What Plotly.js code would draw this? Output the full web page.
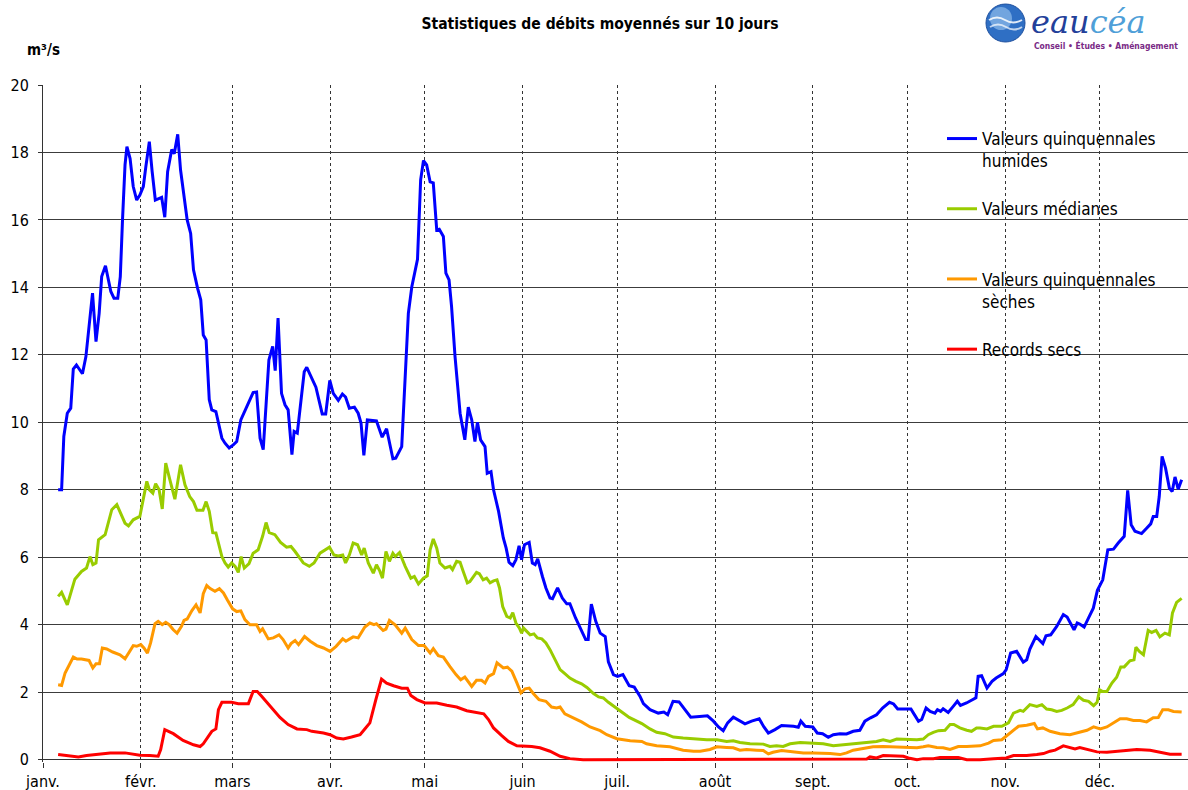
<!DOCTYPE html>
<html>
<head>
<meta charset="utf-8">
<script src="https://cdn.plot.ly/plotly-3.0.1.min.js"></script>
<style>
html,body{margin:0;padding:0;background:#fff;}
#chart{width:1188px;height:790px;}
</style>
</head>
<body>
<div id="chart"></div>
<script>
// Day of year (0 = 1 janvier, leap year) and flow values (m3/s)
const monthTicks = [0, 31, 60, 91, 121, 152, 182, 213, 244, 274, 305, 335];
const monthLabels = ['janv.', 'févr.', 'mars', 'avr.', 'mai', 'juin', 'juil.', 'août', 'sept.', 'oct.', 'nov.', 'déc.'];

const seriesNames = ['Valeurs quinquennales<br>humides', 'Valeurs médianes<br> ', 'Valeurs quinquennales<br>sèches', 'Records secs'];

const blueDays = [4.8,5.9,6.6,7.7,8.8,9.6,10.6,12.5,13.6,14.6,15.7,16.8,17.8,18.6,19.8,21.5,22.5,23.7,24.5,25.2,26.0,26.6,27.6,28.6,29.7,30.7,31.8,32.6,33.7,34.6,35.6,37.6,38.6,39.5,40.8,41.6,42.7,43.6,44.6,45.7,46.8,47.7,49.0,50.0,50.8,51.7,52.7,53.5,54.8,56.1,56.7,57.7,59.0,60.3,61.4,62.7,65.1,66.6,67.7,68.8,69.8,71.6,72.8,73.6,74.5,75.6,76.7,77.7,78.9,79.6,80.6,82.8,83.6,84.7,86.5,88.5,89.6,90.9,92.0,93.6,94.9,95.9,97.1,98.7,99.9,100.8,101.7,102.8,105.7,107.5,108.9,110.9,111.8,113.7,114.8,115.8,116.9,118.7,119.7,120.6,121.6,122.7,123.7,124.8,125.6,126.9,127.7,128.7,129.5,130.6,132.2,133.7,134.8,135.9,136.9,137.7,138.7,140.1,140.8,142.0,142.8,144.4,145.9,146.8,147.7,148.9,149.9,150.9,151.7,152.6,154.1,155.1,156.0,156.8,158.3,159.4,160.7,161.5,163.1,164.6,166.0,167.0,168.8,170.4,172.0,172.8,173.8,175.2,176.6,178.2,179.2,180.8,182.1,183.8,185.8,187.4,189.2,190.3,192.4,195.0,196.8,198.0,199.7,201.6,203.4,205.3,208.1,210.6,212.5,214.1,215.6,217.0,218.8,220.9,222.5,224.6,227.0,228.5,229.9,232.0,234.1,237.9,239.4,240.2,241.6,244.0,245.4,247.1,248.9,250.5,252.6,254.7,256.8,258.9,260.5,262.3,264.2,266.1,268.3,269.6,270.9,273.3,275.1,275.9,277.5,278.5,279.9,281.2,282.7,283.5,284.5,285.3,286.9,288.5,289.8,290.8,292.7,295.7,296.4,297.5,299.2,300.8,302.1,304.4,305.3,306.7,308.6,310.7,311.8,312.8,314.7,316.9,317.9,319.4,321.3,323.4,324.6,326.8,327.8,328.6,330.0,331.4,332.9,334.2,335.9,337.5,339.3,340.8,342.7,343.8,344.9,346.1,348.2,349.8,351.1,351.9,353.0,353.8,354.7,355.8,357.0,357.9,358.8,359.8,360.9];
const blueVals = [8.0,8.0,9.58,10.27,10.42,11.58,11.70,11.44,11.95,12.94,13.83,12.39,13.23,14.32,14.64,13.88,13.68,13.68,14.32,16.0,17.63,18.17,17.82,16.99,16.59,16.74,16.99,17.58,18.32,17.43,16.59,16.67,16.08,17.43,18.09,17.96,18.54,17.48,16.69,16.0,15.60,14.52,13.97,13.63,12.59,12.44,10.67,10.37,10.32,9.78,9.53,9.38,9.24,9.33,9.43,10.07,10.57,10.88,10.9,9.53,9.19,11.85,12.25,11.53,13.09,10.86,10.52,10.37,9.04,9.73,9.68,11.5,11.63,11.41,11.04,10.25,10.25,11.24,10.86,10.65,10.84,10.75,10.42,10.45,10.27,9.98,9.02,10.07,10.04,9.56,9.81,8.92,8.94,9.28,11.26,13.23,14.02,14.83,17.19,17.76,17.63,17.13,17.1,15.70,15.72,15.51,14.42,14.22,13.43,11.95,10.27,9.48,10.45,10.07,9.43,10.0,9.48,9.28,8.49,8.54,8.0,7.36,6.57,6.27,5.85,5.75,5.93,6.34,5.93,6.37,6.44,5.83,5.78,5.95,5.43,5.09,4.79,4.77,5.09,4.79,4.62,4.62,4.2,3.90,3.56,3.56,4.61,4.10,3.75,3.65,2.9,2.52,2.47,2.52,2.19,2.15,1.88,1.66,1.48,1.38,1.41,1.33,1.73,1.71,1.48,1.26,1.28,1.30,1.14,0.97,0.86,1.09,1.26,1.16,1.06,1.14,1.21,0.97,0.79,0.89,1.01,0.99,0.96,1.14,0.99,0.97,0.79,0.77,0.66,0.74,0.77,0.76,0.84,0.87,1.14,1.24,1.33,1.53,1.70,1.65,1.50,1.50,1.50,1.38,1.14,1.19,1.53,1.43,1.38,1.48,1.43,1.51,1.40,1.58,1.73,1.61,1.68,1.83,2.47,2.49,2.12,2.32,2.42,2.55,2.67,3.16,3.21,2.89,2.96,3.28,3.65,3.44,3.67,3.70,3.95,4.30,4.23,3.85,4.05,4.02,3.93,4.20,4.49,5.02,5.33,6.22,6.24,6.42,6.62,7.98,6.96,6.77,6.70,6.86,6.99,7.21,7.21,7.80,8.99,8.64,8.05,7.95,8.38,8.02,8.30];

const greenDays = [4.8,5.9,7.7,10.1,12.2,13.8,14.9,15.8,16.8,17.6,19.7,21.8,23.4,24.4,26.0,27.1,28.6,30.7,31.8,32.9,33.7,34.8,35.7,36.8,37.8,38.9,40.2,41.8,43.6,45.0,46.5,47.7,48.8,50.7,51.7,52.7,53.8,54.8,56.7,57.7,58.7,59.8,60.9,61.9,62.8,63.8,65.3,66.6,68.2,69.6,70.7,71.7,73.5,75.3,77.2,78.6,79.9,81.0,82.5,84.4,85.9,87.8,89.4,90.8,92.2,93.6,95.0,95.9,97.1,98.3,99.7,101.0,101.8,103.1,104.7,105.7,106.8,107.6,108.7,109.8,110.9,111.7,113.0,114.8,116.6,117.7,119.0,120.6,121.8,122.7,123.7,124.8,125.8,127.4,129.0,129.8,131.1,132.2,133.2,134.5,135.3,137.4,138.3,139.5,140.6,141.7,142.8,143.9,144.7,145.7,147.0,148.1,148.9,149.9,151.0,151.7,152.3,153.3,154.4,155.6,156.7,158.1,159.4,160.7,162.3,163.9,165.4,167.0,168.9,170.7,172.4,174.5,176.1,177.6,179.2,180.8,182.4,184.2,185.8,187.1,189.8,192.4,194.5,197.1,199.8,202.9,207.2,210.4,213.6,216.7,218.8,220.9,224.1,228.3,230.4,232.5,234.6,236.8,240.0,244.2,247.3,250.5,253.7,256.8,261.1,264.2,266.3,268.5,270.6,273.8,277.0,279.0,280.6,282.2,283.8,285.9,287.5,288.7,290.6,292.8,294.3,295.9,297.0,299.2,301.3,303.9,306.0,307.6,309.7,310.7,312.8,315.0,316.6,318.1,319.7,321.3,322.9,324.6,326.5,328.3,329.8,331.4,333.0,334.1,334.9,335.9,337.2,338.8,340.3,341.6,342.7,344.5,345.8,346.4,347.5,348.8,350.3,351.4,352.8,354.0,355.6,357.0,358.0,359.3,360.9];
const greenVals = [4.84,4.96,4.59,5.35,5.58,5.68,6.02,5.78,5.83,6.52,6.67,7.41,7.56,7.36,7.01,6.93,7.11,7.21,7.70,8.25,8.0,7.90,8.18,8.0,7.43,8.79,8.30,7.72,8.74,8.15,7.80,7.65,7.39,7.39,7.65,7.36,6.73,6.72,6.02,5.83,5.71,5.83,5.73,5.55,6.02,5.68,5.81,6.12,6.22,6.62,7.03,6.73,6.67,6.44,6.30,6.32,6.17,6.04,5.83,5.73,5.83,6.12,6.22,6.30,6.07,6.04,6.07,5.83,6.07,6.42,6.37,6.07,6.27,5.83,5.53,5.78,5.58,5.38,6.17,5.88,6.12,6.02,6.14,5.73,5.38,5.43,5.21,5.38,5.45,6.22,6.54,6.27,5.83,5.68,5.73,5.63,5.88,5.85,5.58,5.24,5.28,5.55,5.51,5.33,5.38,5.24,5.30,5.33,5.09,4.54,4.25,4.20,4.36,4.05,3.90,3.75,3.90,3.80,3.70,3.73,3.61,3.58,3.46,3.26,2.96,2.67,2.55,2.42,2.32,2.25,2.14,1.96,1.86,1.83,1.70,1.60,1.48,1.36,1.25,1.19,1.07,0.91,0.81,0.77,0.67,0.64,0.61,0.59,0.59,0.54,0.56,0.51,0.47,0.46,0.39,0.41,0.39,0.47,0.51,0.49,0.47,0.41,0.44,0.47,0.51,0.54,0.59,0.54,0.61,0.59,0.59,0.61,0.74,0.81,0.86,0.87,1.04,1.04,0.94,0.87,0.84,0.94,0.94,0.91,0.99,0.99,1.09,1.38,1.46,1.43,1.63,1.58,1.63,1.50,1.48,1.43,1.46,1.53,1.63,1.86,1.76,1.73,1.60,1.70,2.07,2.02,2.02,2.27,2.44,2.75,2.75,2.93,2.96,3.33,3.21,3.11,3.83,3.77,3.83,3.64,3.75,3.70,4.35,4.66,4.78];

const orangeDays = [4.8,5.9,7.0,8.3,9.6,10.8,12.2,14.6,15.8,16.8,17.9,18.8,20.2,22.1,24.4,26.0,27.4,28.6,29.7,31.0,32.0,33.1,34.1,35.5,36.5,37.8,38.9,40.0,41.3,42.5,43.9,44.7,45.7,47.2,48.5,49.8,50.8,51.9,53.0,54.5,55.9,57.2,58.4,60.1,61.4,62.7,64.0,65.6,67.7,68.8,69.6,71.4,73.0,74.8,76.1,77.7,78.6,79.9,81.0,82.9,84.7,86.8,88.9,91.0,92.9,95.0,96.0,98.3,99.9,102.0,103.6,104.9,105.7,107.8,108.7,109.8,111.6,113.7,114.8,116.9,119.0,120.8,122.7,123.7,125.3,126.9,129.0,130.9,132.4,133.7,135.9,137.4,139.0,140.1,141.2,142.8,143.9,145.1,145.9,147.2,148.6,150.0,151.5,152.8,154.1,155.4,157.2,159.4,161.2,162.8,163.9,165.4,168.1,170.7,173.4,176.6,178.7,181.9,186.1,189.8,191.3,194.5,198.7,202.9,206.2,208.3,211.4,213.0,213.6,216.7,218.8,220.9,223.0,226.2,228.3,229.9,231.4,234.1,237.9,241.0,244.2,246.8,249.5,252.6,254.7,256.8,260.0,263.1,266.3,270.6,274.3,277.0,279.0,280.6,283.3,285.3,287.5,290.1,292.8,295.9,297.0,299.7,301.3,303.9,305.3,307.1,309.2,311.8,314.2,315.2,316.9,319.2,322.3,325.5,328.6,330.9,333.0,335.1,337.2,339.3,341.4,343.5,345.6,347.7,349.8,351.9,353.5,354.9,356.7,358.3,360.9];
const orangeVals = [2.22,2.20,2.57,2.81,3.04,2.98,2.98,2.94,2.72,2.84,2.84,3.31,3.28,3.19,3.11,2.99,3.18,3.38,3.36,3.41,3.31,3.16,3.46,4.03,4.10,4.0,4.07,4.0,3.85,3.75,3.95,4.13,4.17,4.42,4.59,4.35,4.92,5.16,5.07,4.99,5.07,4.94,4.74,4.47,4.39,4.41,4.15,4.0,4.0,3.80,3.88,3.58,3.61,3.70,3.56,3.31,3.44,3.53,3.41,3.65,3.51,3.38,3.31,3.21,3.36,3.58,3.51,3.64,3.61,3.93,4.05,4.0,4.03,3.83,3.87,4.13,4.0,3.75,3.90,3.56,3.38,3.38,3.16,3.29,3.08,3.04,2.76,2.52,2.37,2.45,2.17,2.35,2.35,2.27,2.47,2.55,2.87,2.79,2.72,2.74,2.62,2.32,1.98,2.10,2.12,1.96,1.78,1.73,1.56,1.53,1.56,1.36,1.24,1.12,0.97,0.86,0.74,0.62,0.56,0.54,0.47,0.41,0.38,0.28,0.25,0.25,0.30,0.35,0.38,0.36,0.35,0.28,0.30,0.28,0.27,0.17,0.22,0.27,0.22,0.20,0.20,0.20,0.18,0.15,0.20,0.28,0.33,0.38,0.39,0.38,0.35,0.35,0.38,0.41,0.36,0.35,0.30,0.39,0.39,0.39,0.41,0.49,0.57,0.59,0.69,0.84,0.99,1.02,1.07,0.91,0.94,0.84,0.77,0.74,0.81,0.87,0.97,0.91,0.97,1.09,1.21,1.21,1.16,1.16,1.12,1.24,1.25,1.48,1.48,1.43,1.41];

const redDays = [4.8,7.5,11.2,13.8,17.1,21.3,26.0,30.7,33.9,36.5,37.3,38.6,41.3,44.4,47.7,49.8,50.8,52.4,53.5,54.8,55.6,56.7,59.8,61.9,65.1,66.6,67.9,69.3,71.9,75.1,77.7,80.5,83.6,85.2,88.9,91.0,93.1,95.2,97.8,100.5,102.0,103.6,105.5,107.3,108.9,111.1,113.7,115.5,116.6,118.5,121.1,124.8,128.0,131.1,134.3,137.4,139.7,141.2,142.8,145.4,147.5,150.2,152.8,154.9,157.5,160.7,163.9,167.0,171.2,186.1,208.3,240.0,261.1,262.1,264.2,266.3,269.6,272.7,274.3,277.0,279.0,282.2,284.3,287.5,290.1,292.8,297.0,301.3,305.3,307.6,311.8,315.0,317.1,319.2,320.8,323.4,325.5,327.1,328.6,330.9,334.1,337.2,340.3,343.5,346.7,350.9,354.0,357.2,360.9];
const redVals = [0.15,0.12,0.08,0.12,0.15,0.20,0.20,0.13,0.12,0.10,0.30,0.89,0.77,0.57,0.44,0.39,0.47,0.67,0.84,0.91,1.48,1.70,1.70,1.66,1.66,2.02,2.02,1.88,1.60,1.25,1.04,0.91,0.89,0.84,0.79,0.74,0.64,0.61,0.67,0.74,0.91,1.09,1.78,2.39,2.27,2.19,2.12,2.12,1.90,1.78,1.68,1.68,1.61,1.56,1.45,1.40,1.36,1.19,0.94,0.71,0.54,0.41,0.41,0.39,0.35,0.25,0.10,0.03,0.0,0.0,0.0,0.0,0.02,0.08,0.05,0.12,0.12,0.10,0.05,0.0,0.03,0.03,0.06,0.05,0.06,0.0,0.0,0.03,0.05,0.12,0.12,0.15,0.18,0.25,0.28,0.41,0.36,0.32,0.36,0.30,0.23,0.22,0.25,0.28,0.30,0.28,0.22,0.16,0.16];

const seriesColors = ['#0000ff', '#99cc00', '#ff9900', '#ff0000'];
const FONT = '"DejaVu Sans Condensed", "DejaVu Sans", sans-serif';

function mk(days, vals, i) {
  return {
    x: days, y: vals, type: 'scatter', mode: 'lines',
    name: seriesNames[i], legendgroup: 'g' + i,
    line: {color: seriesColors[i], width: 3},
    hoverinfo: 'skip'
  };
}
const traces = [
  mk(blueDays, blueVals, 0),
  mk(greenDays, greenVals, 1),
  mk(orangeDays, orangeVals, 2),
  mk(redDays, redVals, 3)
];

const W = 1188, H = 790, L = 43, R = 0, T = 85, B = 28;
const pw = W - L - R, ph = H - T - B;
const px = v => (v - L) / pw;           // pixel -> paper x (decor only)
const py = v => (H - B - v) / ph;       // pixel -> paper y (decor only)

const layout = {
  width: W, height: H,
  margin: {l: L, r: R, t: T, b: B, pad: 0},
  paper_bgcolor: '#ffffff', plot_bgcolor: '#ffffff',
  font: {family: FONT, size: 16, color: '#000'},
  showlegend: true,
  title: {
    text: '<b>Statistiques de débits moyennés sur 10 jours</b>',
    font: {family: FONT, size: 15.5, color: '#000'},
    xref: 'container', yref: 'container', x: 600 / W, xanchor: 'center', y: 1 - 24 / H, yanchor: 'middle'
  },
  xaxis: {
    range: [0, pw / 3.155],
    tickmode: 'array', tickvals: monthTicks, ticktext: monthLabels,
    showgrid: true, gridcolor: '#333', gridwidth: 1, griddash: 'dot',
    showline: false, zeroline: false,
    ticks: 'outside', ticklen: 5, tickcolor: '#333', tickwidth: 1,
    tickfont: {family: FONT, size: 16, color: '#000'},
    fixedrange: true
  },
  yaxis: {
    range: [-0.07, 20],
    tickmode: 'array', tickvals: [0,2,4,6,8,10,12,14,16,18,20],
    showgrid: true, gridcolor: '#3c3c3c', gridwidth: 1,
    zeroline: true, zerolinecolor: '#333', zerolinewidth: 1,
    showline: true, linecolor: '#333', linewidth: 1,
    ticks: 'outside', ticklen: 4, tickcolor: '#333',
    ticklabelstandoff: 6,
    tickfont: {family: FONT, size: 16, color: '#000'},
    fixedrange: true
  },
  legend: {
    x: px(942), y: py(121), xanchor: 'left', yanchor: 'top',
    bgcolor: 'rgba(0,0,0,0)', borderwidth: 0,
    font: {family: FONT, size: 17, color: '#000'},
    traceorder: 'grouped', tracegroupgap: 23, valign: 'top',
    itemwidth: 30
  },
  shapes: [
    {type: 'rect', xref: 'paper', yref: 'paper', x0: px(925), x1: px(1183), y0: py(393), y1: py(112),
     fillcolor: '#ffffff', line: {width: 0}, layer: 'between'},
    {type: 'circle', xref: 'paper', yref: 'paper', x0: px(986), x1: px(1025), y0: py(42), y1: py(4),
     fillcolor: '#2f6fc4', line: {color: '#1d4f9e', width: 1}, layer: 'above'},
    {type: 'circle', xref: 'paper', yref: 'paper', x0: px(990), x1: px(1012), y0: py(30), y1: py(7),
     fillcolor: 'rgba(170,210,245,0.55)', line: {width: 0}, layer: 'above'},
    {type: 'path', xref: 'paper', yref: 'paper', layer: 'above',
     path: `M ${px(989)} ${py(20)} Q ${px(997)} ${py(15)} ${px(1005)} ${py(20)} T ${px(1022)} ${py(20)}`,
     line: {color: 'rgba(255,255,255,0.85)', width: 2}},
    {type: 'path', xref: 'paper', yref: 'paper', layer: 'above',
     path: `M ${px(990)} ${py(27)} Q ${px(998)} ${py(22)} ${px(1006)} ${py(27)} T ${px(1022)} ${py(27)}`,
     line: {color: 'rgba(255,255,255,0.7)', width: 2}}
  ],
  annotations: [
    {xref: 'paper', yref: 'paper', x: px(25), y: py(50), xanchor: 'left', yanchor: 'middle', showarrow: false,
     text: '<b>m³/s</b>', font: {family: FONT, size: 15, color: '#000'}},
    {xref: 'paper', yref: 'paper', x: px(1029), y: py(0.5), xanchor: 'left', yanchor: 'top', showarrow: false,
     text: '<i><span style="color:#23409a">eau</span><span style="color:#4f9fd8">céa</span></i>',
     font: {family: '"DejaVu Serif", serif', size: 32, color: '#23409a'}},
    {xref: 'paper', yref: 'paper', x: px(1032), y: py(45), xanchor: 'left', yanchor: 'middle', showarrow: false,
     text: '<b>Conseil • Études • Aménagement</b>',
     font: {family: FONT, size: 8.5, color: '#7a2a86'}}
  ]
};

Plotly.newPlot('chart', traces, layout, {displayModeBar: false, staticPlot: true});
</script>
</body>
</html>
